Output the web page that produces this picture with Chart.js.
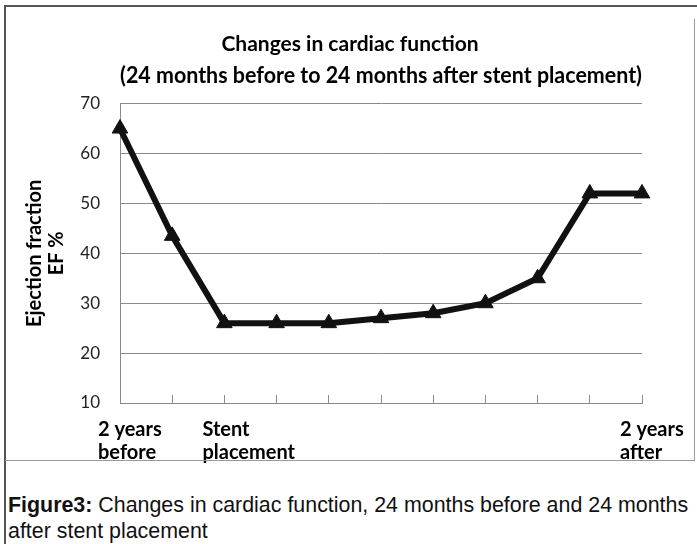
<!DOCTYPE html>
<html>
<head>
<meta charset="utf-8">
<script src="https://cdn.jsdelivr.net/npm/chart.js@4.4.1/dist/chart.umd.min.js"></script>
<style>
  body { margin: 0; background: #fff; width: 697px; height: 544px; overflow: hidden; position: relative; }
  #frame { position: absolute; left: 4px; top: 5px; right: -4px; bottom: -4px; border-top: 2px solid #555; border-left: 2px solid #555; }
  #chart { position: absolute; left: 6px; top: 7px; }
  .edge { position: absolute; background: #999; }
  #caption { position: absolute; left: 8px; top: 492px; font: 21.4px "Liberation Sans", Arial, sans-serif; line-height: 26px; color: #111; }
</style>
</head>
<body>
<div id="frame"></div>
<canvas id="chart" width="688" height="459"></canvas>
<div class="edge" style="left:694px;top:19px;width:1px;height:441px"></div>
<div class="edge" style="left:5px;top:460px;width:690px;height:1px"></div>
<div id="caption"><b>Figure3:</b> Changes in cardiac function, 24 months before and 24 months<br>after stent placement</div>
<script>
// values
const periods = [['2 years', 'before'], '', ['Stent', 'placement'], '', '', '', '', '', '', '', ['2 years', 'after']];
const ejectionFraction = [65, 43.5, 26, 26, 26, 27, 28, 30, 35, 52, 52];
const yMin = 10, yMax = 70, yStep = 10;

const ctx = document.getElementById('chart').getContext('2d');
const lineColor = '#111';
const gridColor = '#8a8a8a';

new Chart(ctx, {
  type: 'line',
  data: {
    labels: periods,
    datasets: [{
      label: 'EF %',
      data: ejectionFraction,
      borderColor: lineColor,
      backgroundColor: lineColor,
      borderWidth: 6,
      tension: 0,
      pointStyle: 'triangle',
      pointRadius: 9,
      pointBackgroundColor: lineColor,
      pointBorderColor: lineColor,
      pointBorderWidth: 1
    }]
  },
  options: {
    responsive: false,
    animation: false,
    layout: { padding: 0 },
    plugins: {
      legend: { display: false },
      tooltip: { enabled: false },
      title: {
        display: true,
        text: 'Changes in cardiac function',
        color: '#000',
        font: { family: 'Lato', size: 21, weight: 'bold', lineHeight: 1.2 },
        padding: { top: 25, bottom: 0 }
      },
      subtitle: {
        display: true,
        fullSize: false,
        text: '(24 months before to 24 months after stent placement)',
        color: '#000',
        font: { family: 'Lato', size: 22, weight: 'bold', lineHeight: 1.2 },
        padding: { top: 6, bottom: 14 }
      }
    },
    scales: {
      x: {
        offset: false,
        grid: { drawOnChartArea: false, drawTicks: true, tickLength: -8, color: gridColor },
        border: { color: gridColor },
        ticks: {
          autoSkip: false,
          maxRotation: 0,
          align: 'start',
          labelOffset: -22,
          padding: 23,
          color: '#000',
          font: { family: 'Lato', size: 20, weight: 'bold', lineHeight: 1.15 }
        },
        // keep the plot's right edge where the figure has it
        afterFit: scale => { scale.height = 63; scale.paddingLeft = 0; scale.paddingRight = 52; }
      },
      y: {
        min: yMin,
        max: yMax,
        grid: { color: gridColor, drawTicks: false },
        border: { color: gridColor },
        ticks: {
          stepSize: yStep,
          padding: 20,
          color: '#222',
          font: { family: 'Lato', size: 17 }
        },
        title: {
          display: true,
          text: ['Ejection fraction', 'EF %'],
          color: '#000',
          font: { family: 'Lato', size: 20, weight: 'bold', lineHeight: 1.1 },
          padding: { top: 18, bottom: 0 }
        },
        afterFit: scale => { scale.width = 114; scale.paddingTop = 0; scale.paddingBottom = 0; }
      }
    }
  }
});
</script>
</body>
</html>
